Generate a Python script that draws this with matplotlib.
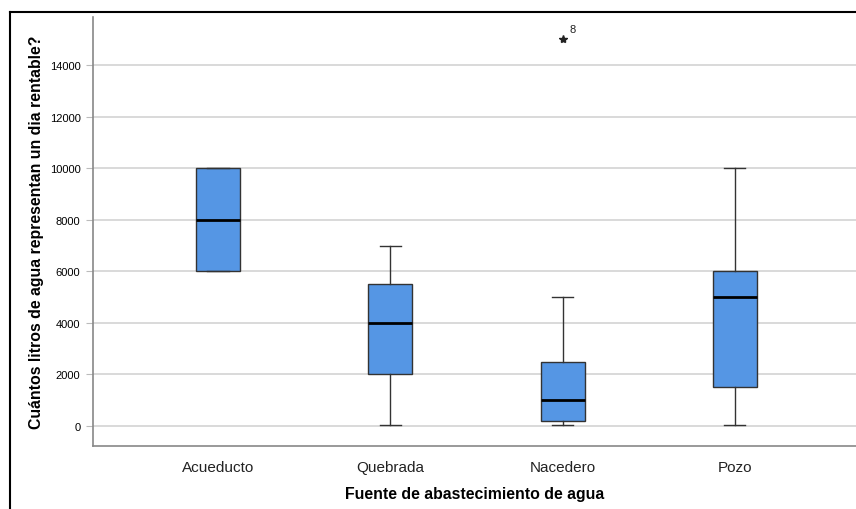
import matplotlib
matplotlib.use("Agg")
import matplotlib.pyplot as plt
from matplotlib.lines import Line2D

plt.rcParams['font.family'] = ['Liberation Sans', 'DejaVu Sans']

# data
categorias = ["Acueducto", "Quebrada", "Nacedero", "Pozo"]
bigote_inf = [6000, 30, 30, 50]
q1 = [6000, 2000, 200, 1500]
mediana = [8000, 4000, 1000, 5000]
q3 = [10000, 5500, 2500, 6000]
bigote_sup = [10000, 7000, 5000, 10000]
extremos = [[], [], [15000], []]
extremos_id = [[], [], ["8"], []]
yticks = [0, 2000, 4000, 6000, 8000, 10000, 12000, 14000]

W, H = 856, 510
fig = plt.figure(figsize=(W / 100, H / 100), dpi=100)
ax = fig.add_axes([93 / W, 1 - 447 / H, 1 - 93 / W, (447 - 18) / H])

stats = []
for i, c in enumerate(categorias):
    stats.append(dict(label=c, whislo=bigote_inf[i], q1=q1[i], med=mediana[i],
                      q3=q3[i], whishi=bigote_sup[i], fliers=[]))

pos = list(range(1, len(categorias) + 1))
ax.bxp(stats, positions=pos, widths=0.255, capwidths=0.122, patch_artist=True,
       showfliers=False,
       boxprops=dict(facecolor="#5596e4", edgecolor="#333333", linewidth=1.0),
       medianprops=dict(color="black", linewidth=2.0),
       whiskerprops=dict(color="#333333", linewidth=1.0),
       capprops=dict(color="#333333", linewidth=1.0))

for i, (vals, ids) in enumerate(zip(extremos, extremos_id)):
    for v, t in zip(vals, ids):
        ax.plot(pos[i], v, marker="*", color="#222222", markersize=6, linestyle="none")
        ax.annotate(t, (pos[i], v), xytext=(5, 5), textcoords="offset points",
                    fontsize=8, color="#222222")

ax.set_xlim(0.2745, 4.703)
ax.set_ylim(-776, 15862)
ax.set_yticks(yticks)
ax.set_yticklabels([str(v) for v in yticks], fontsize=8)
ax.set_xticks(pos)
ax.set_xticklabels(categorias, fontsize=11, color="#222222")
ax.tick_params(axis="x", length=0, pad=10)
ax.tick_params(axis="y", length=5, color="#bbbbbb", pad=4)
ax.grid(axis="y", color="#d3d3d3", linewidth=1.2)
ax.set_axisbelow(True)
for s in ["top", "right"]:
    ax.spines[s].set_visible(False)
for s in ["left", "bottom"]:
    ax.spines[s].set_color("#888888")
    ax.spines[s].set_linewidth(1.2)

ax.set_xlabel("Fuente de abastecimiento de agua", fontsize=11.4,
              fontweight="bold", labelpad=9)
ax.set_ylabel("Cuántos litros de agua representan un dia rentable?", fontsize=11.4,
              fontweight="bold", labelpad=4)

# outer frame (cut off at right/bottom)
fig.add_artist(Line2D([10 / W, 10 / W], [0, 1 - 13 / H], color="black", linewidth=1.5,
                      transform=fig.transFigure))
fig.add_artist(Line2D([10 / W, 1], [1 - 13 / H, 1 - 13 / H], color="black", linewidth=1.5,
                      transform=fig.transFigure))

fig.savefig("out.png", dpi=100)
